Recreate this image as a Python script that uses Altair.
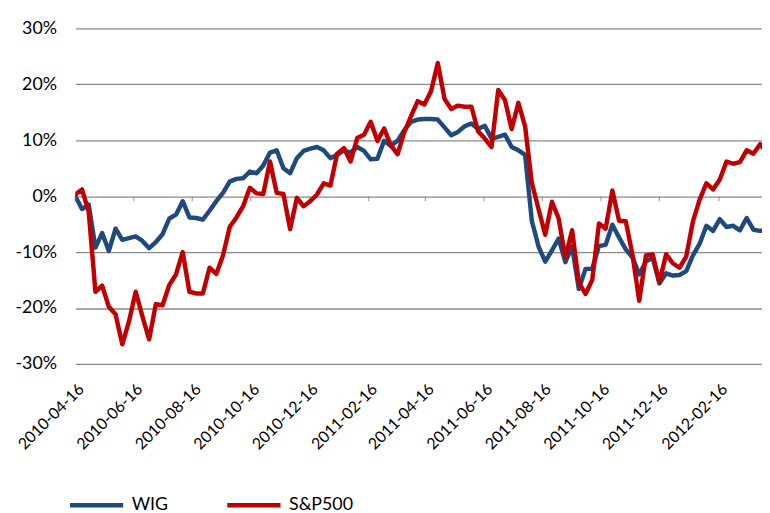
import altair as alt
import pandas as pd

start_date = "2010-04-16"
end_date = "2012-04-01"

wig = [
    0.0, -2.3, -1.5, -9.2, -6.6, -9.8, -5.8, -7.8, -7.5, -7.2,
    -8.0, -9.3, -8.2, -6.8, -4.0, -3.3, -0.9, -3.8, -3.9, -4.2,
    -2.6, -0.9, 0.6, 2.6, 3.1, 3.2, 4.4, 4.1, 5.5, 7.8,
    8.2, 5.0, 4.1, 6.8, 8.1, 8.5, 8.8, 8.2, 6.8, 7.4,
    8.2, 7.8, 8.8, 8.1, 6.6, 6.7, 9.9, 9.0, 9.9, 11.8,
    13.3, 13.7, 13.8, 13.8, 13.7, 12.3, 10.9, 11.5, 12.5, 13.0,
    12.0, 12.6, 10.3, 10.6, 11.0, 8.8, 8.2, 7.4, -4.4, -9.0,
    -11.7, -9.7, -7.6, -11.8, -9.0, -16.6, -13.0, -13.0, -8.9, -8.7,
    -5.1, -7.4, -9.5, -11.0, -14.0, -11.7, -11.0, -15.6, -13.8, -14.2,
    -14.1, -13.4, -10.6, -8.5, -5.3, -6.2, -4.1, -5.5, -5.3, -6.1,
    -3.9, -6.0, -6.2, -6.2,
]

sp500 = [
    0.3, 1.2, -2.8, -17.1, -16.0, -19.8, -21.1, -26.5, -22.4, -17.1,
    -21.5, -25.6, -19.3, -19.5, -15.9, -14.0, -10.0, -17.1, -17.4, -17.4,
    -12.8, -13.9, -10.6, -5.5, -3.8, -1.8, 1.5, 0.5, 0.4, 6.2,
    0.6, 0.4, -5.9, -0.3, -1.8, -0.9, 0.3, 2.3, 1.9, 7.6,
    8.6, 6.2, 10.4, 11.0, 13.3, 9.9, 12.1, 9.1, 7.5, 11.4,
    14.3, 17.0, 16.4, 18.8, 23.8, 17.4, 15.6, 16.2, 16.0, 16.0,
    11.6, 10.3, 8.8, 19.0, 17.2, 12.0, 16.7, 12.5, 2.4, -2.3,
    -6.9, -1.0, -4.0, -11.0, -6.1, -15.4, -17.5, -15.0, -4.9, -5.8,
    1.0, -4.4, -4.5, -10.5, -18.7, -10.6, -10.4, -15.4, -10.4, -12.0,
    -12.8, -10.8, -4.5, -0.6, 2.3, 1.2, 3.0, 6.2, 5.8, 6.1,
    8.2, 7.6, 9.3, 7.8,
]

tick_labels = [
    "2010-04-16", "2010-06-16", "2010-08-16", "2010-10-16",
    "2010-12-16", "2011-02-16", "2011-04-16", "2011-06-16",
    "2011-08-16", "2011-10-16", "2011-12-16", "2012-02-16",
]
y_ticks = [-30, -20, -10, 0, 10, 20, 30]

series_names = ["WIG", "S&P500"]
series_colors = ["#1F4A7E", "#C00000"]


def ms(s):
    return int(pd.Timestamp(s, tz="UTC").value // 10**6)


dates = pd.date_range(start_date, periods=len(wig), freq="7D").strftime("%Y-%m-%d")
df = pd.DataFrame({"date": list(dates) * 2,
                   "series": ["WIG"] * len(wig) + ["S&P500"] * len(sp500),
                   "value": wig + sp500})
tick_df = pd.DataFrame({"date": tick_labels, "zero": [0] * len(tick_labels)})

W, H = 694, 339
FONT = "Lato"
GRID = "#8a8a8a"

xscale = alt.Scale(type="utc", domain=[ms(start_date), ms(end_date)])
yscale = alt.Scale(domain=[-30, 30], nice=False)
tick_ms = [ms(t) for t in tick_labels]

lines = alt.Chart(df).mark_line(strokeWidth=4.5, strokeJoin="round", strokeCap="round", clip=True).encode(
    x=alt.X("date:T", scale=xscale,
            axis=alt.Axis(orient="bottom", values=tick_ms,
                          labelExpr="utcFormat(datum.value, '%Y-%m-%d')",
                          labelAngle=-45, labelAlign="right", labelBaseline="top",
                          labelPadding=17, ticks=False, domain=False, grid=False, title=None,
                          labelFont=FONT, labelFontSize=16, labelColor="#000000",
                          labelOverlap=False, labelFlush=False)),
    y=alt.Y("value:Q", scale=yscale,
            axis=alt.Axis(values=y_ticks, labelExpr="datum.value + '%'", grid=True,
                          gridColor=GRID, gridWidth=1.3, ticks=False, domain=False,
                          title=None, labelFont=FONT, labelFontSize=18, labelColor="#000000",
                          labelPadding=19)),
    color=alt.Color("series:N", sort=series_names,
                    scale=alt.Scale(domain=series_names, range=series_colors),
                    legend=alt.Legend(orient="none", legendX=-8, legendY=452, direction="horizontal",
                                      title=None, symbolType="stroke", symbolStrokeWidth=4.5,
                                      symbolSize=2900, labelFont=FONT, labelFontSize=18,
                                      labelColor="#000000", columnPadding=50, labelOffset=6,
                                      padding=0)),
)

ticks = alt.Chart(tick_df).mark_tick(orient="vertical", size=5, thickness=1.3,
                                     color=GRID, yOffset=2.5).encode(
    x=alt.X("date:T", scale=xscale),
    y=alt.Y("zero:Q", scale=yscale),
)

chart = alt.layer(ticks, lines).properties(
    width=W, height=H,
    autosize=alt.AutoSizeParams(type="none"),
    padding={"left": 68, "top": 18, "right": 0, "bottom": 148},
).configure_view(stroke=None)

chart.save("out.html", embed_options={"renderer": "svg", "actions": False})
